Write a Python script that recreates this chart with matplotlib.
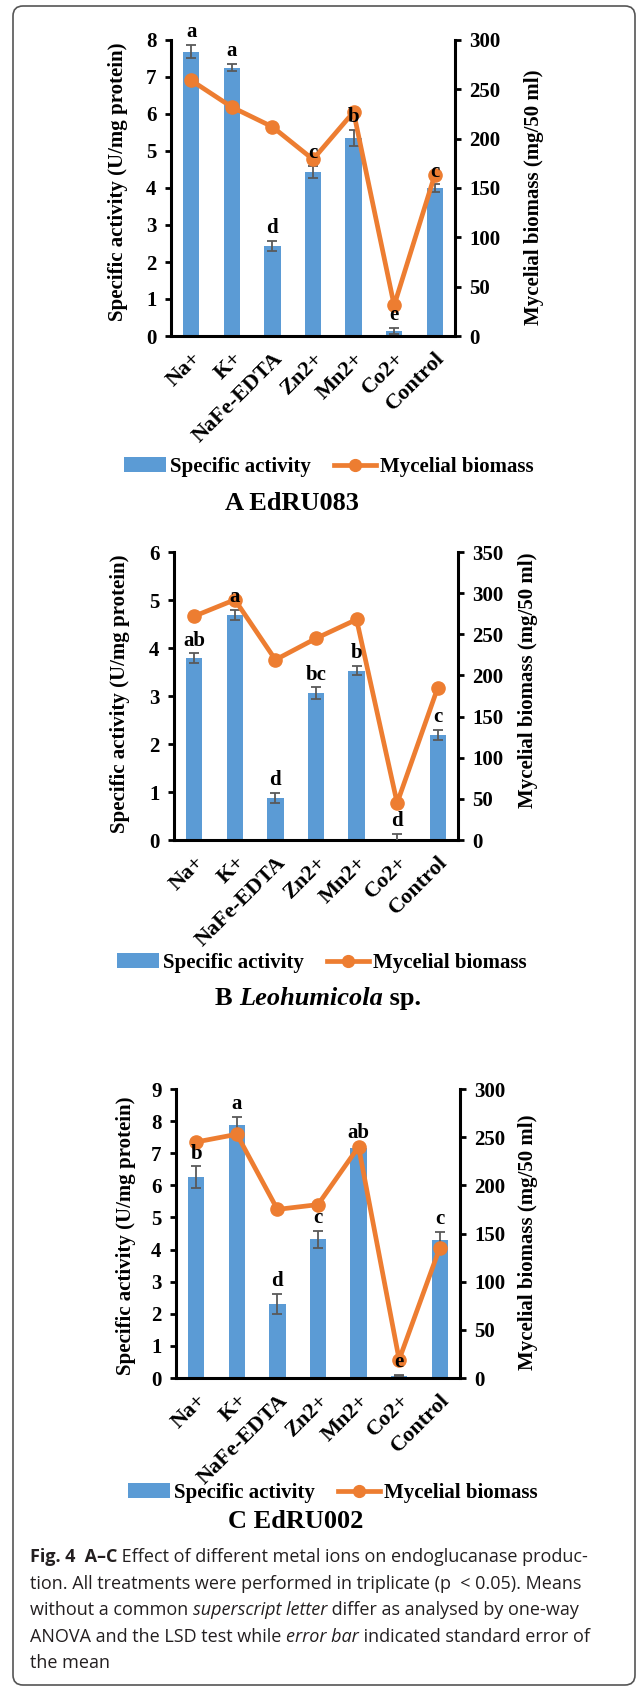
import matplotlib
matplotlib.use('Agg')
import matplotlib.pyplot as plt
from matplotlib.patches import FancyBboxPatch, Patch
from matplotlib.lines import Line2D

# 처리구 (metal ions)
ions = ['Na+', 'K+', 'NaFe-EDTA', 'Zn2+', 'Mn2+', 'Co2+', 'Control']

# A EdRU083
act_a = [7.68, 7.25, 2.43, 4.43, 5.36, 0.13, 3.99]
err_a = [0.18, 0.10, 0.14, 0.17, 0.22, 0.08, 0.11]
bio_a = [259, 232, 212, 179, 227, 31, 163]
let_a = ['a', 'a', 'd', 'c', 'b', 'e', 'c']

# B Leohumicola sp.
act_b = [3.79, 4.69, 0.88, 3.06, 3.53, 0.03, 2.19]
err_b = [0.10, 0.11, 0.10, 0.12, 0.10, 0.10, 0.11]
bio_b = [272, 292, 219, 245, 268, 45, 185]
let_b = ['ab', 'a', 'd', 'bc', 'b', 'd', 'c']

# C EdRU002
act_c = [6.25, 7.89, 2.30, 4.32, 7.17, 0.07, 4.31]
err_c = [0.34, 0.23, 0.31, 0.27, 0.05, 0.02, 0.23]
bio_c = [245, 253, 175, 180, 240, 19, 135]
let_c = ['b', 'a', 'd', 'c', 'ab', 'e', 'c']

BAR_COLOR = '#5B9BD5'
LINE_COLOR = '#ED7D31'
SERIF = 'Liberation Serif'
SANS = 'Open Sans'

W, H = 637, 1701
plt.rcParams['font.family'] = SERIF
plt.rcParams['font.weight'] = 'bold'

fig = plt.figure(figsize=(W / 100, H / 100), dpi=100)


def px(x):
    return x / W


def py(y):
    return 1 - y / H


def draw_panel(rect, act, err, bio, letters, ymax, rmax, rstep,
               lab_l, lab_r, leg_xy):
    ax1 = fig.add_axes(rect)
    x = list(range(len(ions)))
    ax1.bar(x, act, width=0.4, color=BAR_COLOR, zorder=2)
    ax1.errorbar(x, act, yerr=err, fmt='none', ecolor='#595959',
                 elinewidth=1.3, capsize=3.5, capthick=1.3, zorder=3)
    ax1.set_xlim(-0.5, len(ions) - 0.5)
    ax1.set_ylim(0, ymax)
    ax1.set_yticks(range(0, ymax + 1))
    ax1.set_xticks(x)
    ax1.set_xticklabels(ions, rotation=45, ha='right', va='top',
                        rotation_mode='anchor')
    ax1.tick_params(axis='x', length=0, pad=9, labelsize=16)
    ax1.tick_params(axis='y', direction='out', length=4.5, width=2,
                    pad=6, labelsize=15)
    for s in ['top', 'right']:
        ax1.spines[s].set_visible(False)
    for s in ['left', 'bottom']:
        ax1.spines[s].set_linewidth(2.2)

    ax2 = ax1.twinx()
    ax2.plot(x, bio, color=LINE_COLOR, lw=3.4, marker='o', ms=9.5,
             zorder=5)
    ax2.set_ylim(0, rmax)
    ax2.set_yticks(range(0, rmax + 1, rstep))
    ax2.tick_params(axis='y', direction='out', length=4.5, width=2,
                    pad=6, labelsize=15)
    for s in ['top', 'left', 'bottom']:
        ax2.spines[s].set_visible(False)
    ax2.spines['right'].set_linewidth(2.2)

    # 유의성 문자는 선 위에 그림
    for i in x:
        ax2.annotate(letters[i], (i, act[i] + err[i]), xycoords=ax1.transData,
                     xytext=(0, 2), textcoords='offset points',
                     ha='center', va='bottom', fontsize=15,
                     fontweight='bold', zorder=6)

    fig.text(px(lab_l[0]), py(lab_l[1]), 'Specific activity (U/mg protein)',
             rotation=90, ha='center', va='center', fontsize=15)
    fig.text(px(lab_r[0]), py(lab_r[1]), 'Mycelial biomass (mg/50 ml)',
             rotation=90, ha='center', va='center', fontsize=15)

    handles = [Patch(facecolor=BAR_COLOR, edgecolor='none'),
               Line2D([], [], color=LINE_COLOR, lw=3.4, marker='o', ms=8.5)]
    fig.legend(handles, ['Specific activity', 'Mycelial biomass'],
               loc='center', bbox_to_anchor=(px(leg_xy[0]), py(leg_xy[1])),
               ncol=2, frameon=False, handlelength=2.0, handletextpad=0.2,
               columnspacing=1.1, prop={'family': SERIF, 'weight': 'bold',
                                        'size': 15})
    return ax1, ax2


draw_panel([px(171), py(336), px(284), 296 / H], act_a, err_a, bio_a, let_a,
           8, 300, 50, (118, 182), (534, 197), (329, 467))
draw_panel([px(174), py(840), px(284), 288 / H], act_b, err_b, bio_b, let_b,
           6, 350, 50, (120, 694), (528, 680), (322, 963))
draw_panel([px(176), py(1378), px(284), 289 / H], act_c, err_c, bio_c, let_c,
           9, 300, 50, (126, 1236), (528, 1242), (333, 1493))

rend = fig.canvas.get_renderer()


def run_width(s, style, size):
    t1 = fig.text(0, 0, '|' + s + '|', fontsize=size, **style)
    t2 = fig.text(0, 0, '||', fontsize=size, **style)
    w = t1.get_window_extent(rend).width - t2.get_window_extent(rend).width
    t1.remove()
    t2.remove()
    return w


def text_runs(x, y, runs, size, center=False, color='black'):
    widths = [run_width(s, st, size) for s, st in runs]
    if center:
        x = x - sum(widths) / 2
    for (s, st), w in zip(runs, widths):
        fig.text(px(x), py(y), s, fontsize=size, va='baseline', ha='left',
                 color=color, **st)
        x += w


bold = {'family': SERIF, 'weight': 'bold'}
bold_it = {'family': SERIF, 'weight': 'bold', 'style': 'italic'}
text_runs(292, 510, [('A EdRU083', bold)], 19, center=True)
text_runs(318, 1005, [('B ', bold), ('Leohumicola', bold_it), (' sp.', bold)],
          19, center=True)
text_runs(296, 1528, [('C EdRU002', bold)], 19, center=True)

reg = {'family': SANS, 'weight': 'normal'}
cb = {'family': SANS, 'weight': 'bold'}
ci = {'family': SANS, 'weight': 'normal', 'style': 'italic'}
caption = [
    [('Fig. 4  A\u2013C', cb), (' Effect of different metal ions on endoglucanase produc-', reg)],
    [('tion. All treatments were performed in triplicate (p  < 0.05). Means', reg)],
    [('without a common ', reg), ('superscript letter', ci), (' differ as analysed by one-way', reg)],
    [('ANOVA and the LSD test while ', reg), ('error bar', ci), (' indicated standard error of', reg)],
    [('the mean', reg)],
]
for k, line in enumerate(caption):
    text_runs(30, 1562 + k * 26.5, line, 13, color='#231F20')

box = FancyBboxPatch((0.13, 0.16), 6.22, 16.79,
                     boxstyle='round,pad=0,rounding_size=0.1',
                     transform=fig.dpi_scale_trans, facecolor='none',
                     edgecolor='#555555', linewidth=1.2)
fig.patches.append(box)

fig.savefig('out.png', dpi=100)
